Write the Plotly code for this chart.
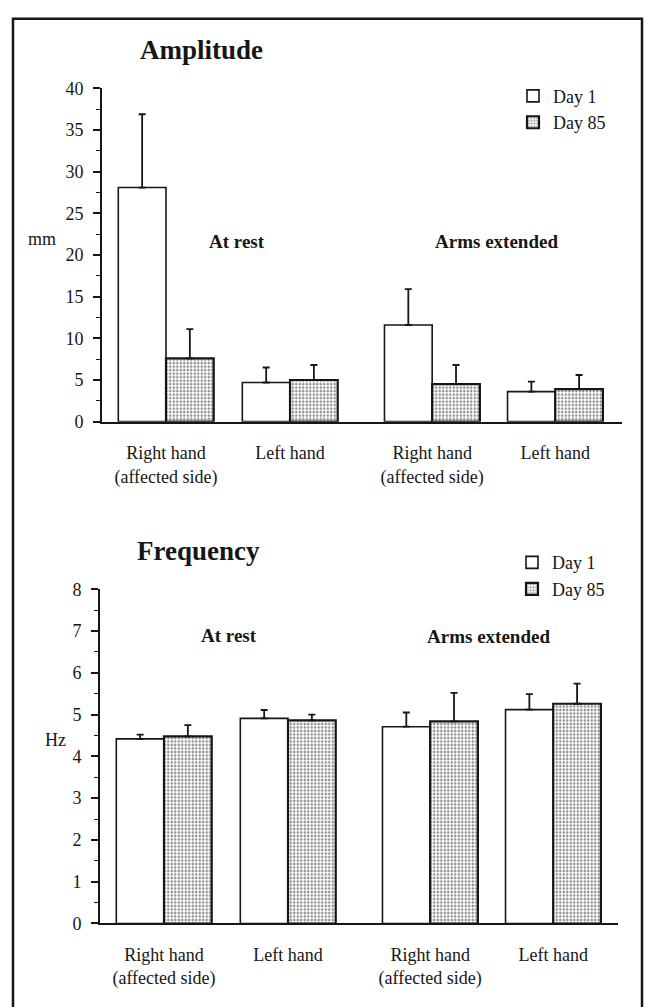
import plotly.graph_objects as go

# ---------------- data ----------------
categories = ["Right hand<br>(affected side)", "Left hand",
              "Right hand<br>(affected side)", "Left hand"]
series_names = ["Day 1", "Day 85"]

amp_day1 = [28.1, 4.7, 11.6, 3.6]
amp_day1_err = [8.8, 1.8, 4.3, 1.2]
amp_day85 = [7.6, 5.0, 4.5, 3.9]
amp_day85_err = [3.5, 1.8, 2.3, 1.7]

freq_day1 = [4.42, 4.91, 4.71, 5.12]
freq_day1_err = [0.10, 0.20, 0.34, 0.37]
freq_day85 = [4.48, 4.86, 4.84, 5.26]
freq_day85_err = [0.27, 0.14, 0.68, 0.48]

condition_labels = ["At rest", "Arms extended"]
amp_ticks = [0, 5, 10, 15, 20, 25, 30, 35, 40]
freq_ticks = [0, 1, 2, 3, 4, 5, 6, 7, 8]

# ---------------- layout constants ----------------
W, H = 648, 1007
FONT = "Liberation Serif"
INK = "#161616"
group_pos = [0, 2.6, 5.58, 8.16]   # group centres in bar-width units


def px_x(p):
    return p / W


def px_y(p):
    return 1 - p / H


fig = go.Figure()

pattern85 = dict(shape=".", size=3.5, solidity=0.4, fgcolor=INK, bgcolor="white")


def add_pair(d1, e1, d85, e85, xa, ya, legend):
    for name, vals, errs, off, pat, lw in [
        (series_names[0], d1, e1, -0.5, None, 1.6),
        (series_names[1], d85, e85, 0.5, pattern85, 2.2),
    ]:
        marker = dict(color="white", line=dict(color=INK, width=lw))
        if pat:
            marker["pattern"] = pat
        fig.add_trace(go.Bar(
            x=[g + off for g in group_pos], y=vals, width=1.0, name=name,
            marker=marker, xaxis=xa, yaxis=ya, legend=legend,
            error_y=dict(type="data", array=errs, arrayminus=[0] * len(errs),
                         symmetric=False, color=INK, thickness=1.8, width=3.5),
        ))


add_pair(amp_day1, amp_day1_err, amp_day85, amp_day85_err, "x", "y", "legend")
add_pair(freq_day1, freq_day1_err, freq_day85, freq_day85_err, "x2", "y2", "legend2")

unit = 47.7
tickfont = dict(family=FONT, size=18, color=INK)

xcommon = dict(tickvals=group_pos, ticktext=categories, tickfont=tickfont,
               showline=True, linecolor=INK, linewidth=2, ticks="", showgrid=False,
               zeroline=False, ticklabelstandoff=14)
ycommon = dict(showline=True, linecolor=INK, linewidth=2, ticks="outside", ticklen=7,
               tickwidth=1.6, tickcolor=INK, tickfont=tickfont, showgrid=False,
               zeroline=False, ticklabelstandoff=6)

fig.update_layout(
    width=W, height=H, margin=dict(l=0, r=0, t=0, b=0),
    paper_bgcolor="white", plot_bgcolor="white",
    barmode="overlay", showlegend=True,
    font=dict(family=FONT, color=INK),
    xaxis=dict(domain=[px_x(102), px_x(622)],
               range=[(102 - 166) / unit, (622 - 166) / unit],
               anchor="y", **xcommon),
    yaxis=dict(domain=[px_y(420), px_y(80)], range=[0, 40], tickvals=amp_ticks,
               anchor="x",
               minor=dict(dtick=2.5, ticks="outside", ticklen=4, tickcolor=INK, tickwidth=1.4),
               **ycommon),
    xaxis2=dict(domain=[px_x(100), px_x(618)],
                range=[(100 - 164) / unit, (618 - 164) / unit],
                anchor="y2", **xcommon),
    yaxis2=dict(domain=[px_y(932), px_y(591)], range=[0, 8], tickvals=freq_ticks,
                anchor="x2",
                minor=dict(dtick=0.5, ticks="outside", ticklen=4, tickcolor=INK, tickwidth=1.4),
                **ycommon),
    legend=dict(x=px_x(513), y=px_y(69), xanchor="left", yanchor="top",
                font=dict(family=FONT, size=18, color=INK), bgcolor="rgba(0,0,0,0)",
                tracegroupgap=0, itemwidth=30),
    legend2=dict(x=px_x(512), y=px_y(545), xanchor="left", yanchor="top",
                 font=dict(family=FONT, size=18, color=INK), bgcolor="rgba(0,0,0,0)",
                 tracegroupgap=0, itemwidth=30),
)

annots = [
    dict(text="<b>Amplitude</b>", x=px_x(201), y=px_y(41), size=27),
    dict(text="<b>Frequency</b>", x=px_x(198), y=px_y(552), size=27),
    dict(text="<b>" + condition_labels[0] + "</b>", x=px_x(237), y=px_y(236), size=19),
    dict(text="<b>" + condition_labels[1] + "</b>", x=px_x(496), y=px_y(236), size=19),
    dict(text="<b>" + condition_labels[0] + "</b>", x=px_x(229), y=px_y(638), size=19),
    dict(text="<b>" + condition_labels[1] + "</b>", x=px_x(488), y=px_y(639), size=19),
    dict(text="mm", x=px_x(42), y=px_y(234), size=18),
    dict(text="Hz", x=px_x(55), y=px_y(745), size=18),
]
for a in annots:
    fig.add_annotation(text=a["text"], x=a["x"], y=a["y"], xref="paper", yref="paper",
                       showarrow=False, xanchor="center", yanchor="middle",
                       font=dict(family=FONT, size=a["size"], color=INK))

# page frame
fig.add_shape(type="rect", xref="paper", yref="paper",
              x0=px_x(13), x1=px_x(642), y0=-0.02, y1=px_y(9),
              line=dict(color=INK, width=2.5), fillcolor="rgba(0,0,0,0)", layer="below")

fig.write_html("out.html")
